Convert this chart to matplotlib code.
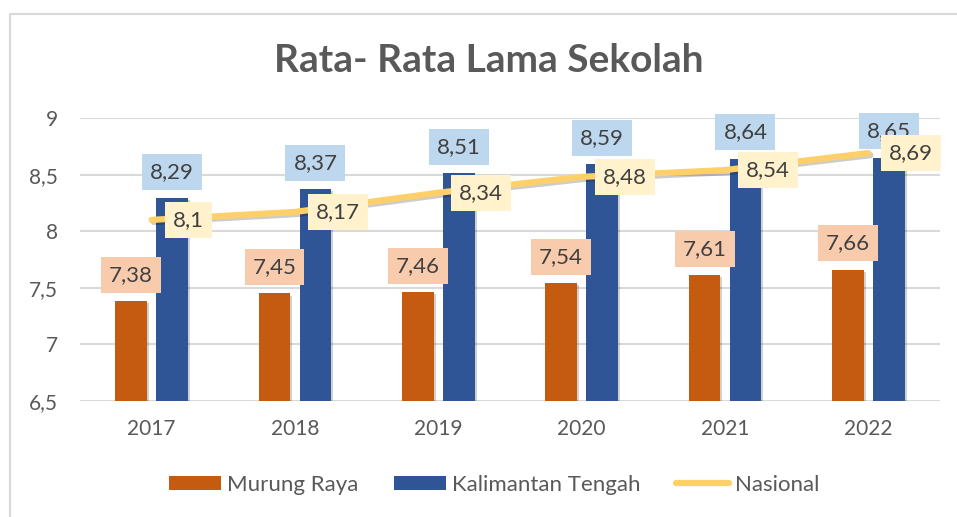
import matplotlib
matplotlib.use("Agg")
import matplotlib.pyplot as plt
import matplotlib.patheffects as pe
from matplotlib.lines import Line2D
from matplotlib.patches import Patch, Rectangle
import numpy as np

years = ["2017", "2018", "2019", "2020", "2021", "2022"]
murung_raya = [7.38, 7.45, 7.46, 7.54, 7.61, 7.66]
kalteng = [8.29, 8.37, 8.51, 8.59, 8.64, 8.65]
nasional = [8.10, 8.17, 8.34, 8.48, 8.54, 8.69]
yticks = [6.5, 7, 7.5, 8, 8.5, 9]
series_names = ["Murung Raya", "Kalimantan Tengah", "Nasional"]
title = "Rata- Rata Lama Sekolah"

C_OR = "#C55A11"
C_BL = "#2F5597"
C_LN = "#FFD06A"
B_OR = "#F8CBAD"
B_BL = "#BDD7EE"
B_LN = "#FFF2CC"
TXT = "#404040"
AX_TXT = "#595959"
GRID = "#D9D9D9"

plt.rcParams['font.family'] = ['Lato', 'DejaVu Sans']

def fmt(v):
    s = ("%.2f" % v).rstrip('0').rstrip('.')
    return s.replace('.', ',')

fig = plt.figure(figsize=(9.57, 5.17), dpi=100)
# chart border
fig.add_artist(Rectangle((10/957, -0.1), 1.2, (517-14)/517 + 0.1, transform=fig.transFigure,
                         fill=False, edgecolor="#D9D9D9", linewidth=1.5))

ax = fig.add_axes([80/957, (517-401)/517, 860/957, 283/517])
x = np.arange(len(years))
bw = 0.22
off = 0.143
shadow = [pe.SimplePatchShadow(offset=(1.5, -1.5), shadow_rgbFace="#000000", alpha=0.18), pe.Normal()]
b1 = ax.bar(x - off, murung_raya, bw, color=C_OR, zorder=3)
b2 = ax.bar(x + off, kalteng, bw, color=C_BL, zorder=3)
for b in list(b1) + list(b2):
    b.set_path_effects(shadow)
ln, = ax.plot(x, nasional, color=C_LN, linewidth=4.5, solid_capstyle='round', zorder=4,
              path_effects=[pe.SimpleLineShadow(offset=(1.5, -1.5), alpha=0.2), pe.Normal()])

ax.set_ylim(6.5, 9)
ax.set_xlim(-0.5, len(years) - 0.5)
ax.set_yticks(yticks)
ax.set_yticklabels([fmt(v) for v in yticks])
ax.set_xticks(x)
ax.set_xticklabels(years)
ax.tick_params(axis='both', length=0, labelsize=15, labelcolor=AX_TXT)
ax.tick_params(axis='y', pad=16)
ax.tick_params(axis='x', pad=13)
ax.grid(axis='y', color=GRID, linewidth=1.5, zorder=0)
ax.set_axisbelow(True)
for s in ax.spines.values():
    s.set_visible(False)

lab_kw = dict(textcoords='offset points', fontsize=16, color=TXT, ha='center', va='center', zorder=6)
for i in range(len(years)):
    ax.annotate(fmt(murung_raya[i]), (x[i] - off, murung_raya[i]), xytext=(0, 19),
                bbox=dict(boxstyle='square,pad=0.36', fc=B_OR, ec='none'), **lab_kw)
    ax.annotate(fmt(kalteng[i]), (x[i] + off, kalteng[i]), xytext=(0, 19),
                bbox=dict(boxstyle='square,pad=0.36', fc=B_BL, ec='none'), **lab_kw)
for i in range(len(years)):
    ax.annotate(fmt(nasional[i]), (x[i], nasional[i]), xytext=(15, 0), textcoords='offset points',
                fontsize=16, color=TXT, ha='left', va='center', zorder=7,
                bbox=dict(boxstyle='square,pad=0.36', fc=B_LN, ec='none'))

fig.text(489/957, 1 - 61/517, title, ha='center', va='center', fontsize=28,
         fontweight='bold', color=AX_TXT)

handles = [Patch(facecolor=C_OR), Patch(facecolor=C_BL),
           Line2D([0], [0], color=C_LN, linewidth=4.5, solid_capstyle='round')]
leg = fig.legend(handles, series_names, loc='center', bbox_to_anchor=(494/957, 1 - 485/517),
                 ncol=3, frameon=False, fontsize=16, handlelength=2.35, handleheight=0.63,
                 handletextpad=0.27, columnspacing=1.6)
for t in leg.get_texts():
    t.set_color(AX_TXT)

fig.savefig("out.png", dpi=100)
